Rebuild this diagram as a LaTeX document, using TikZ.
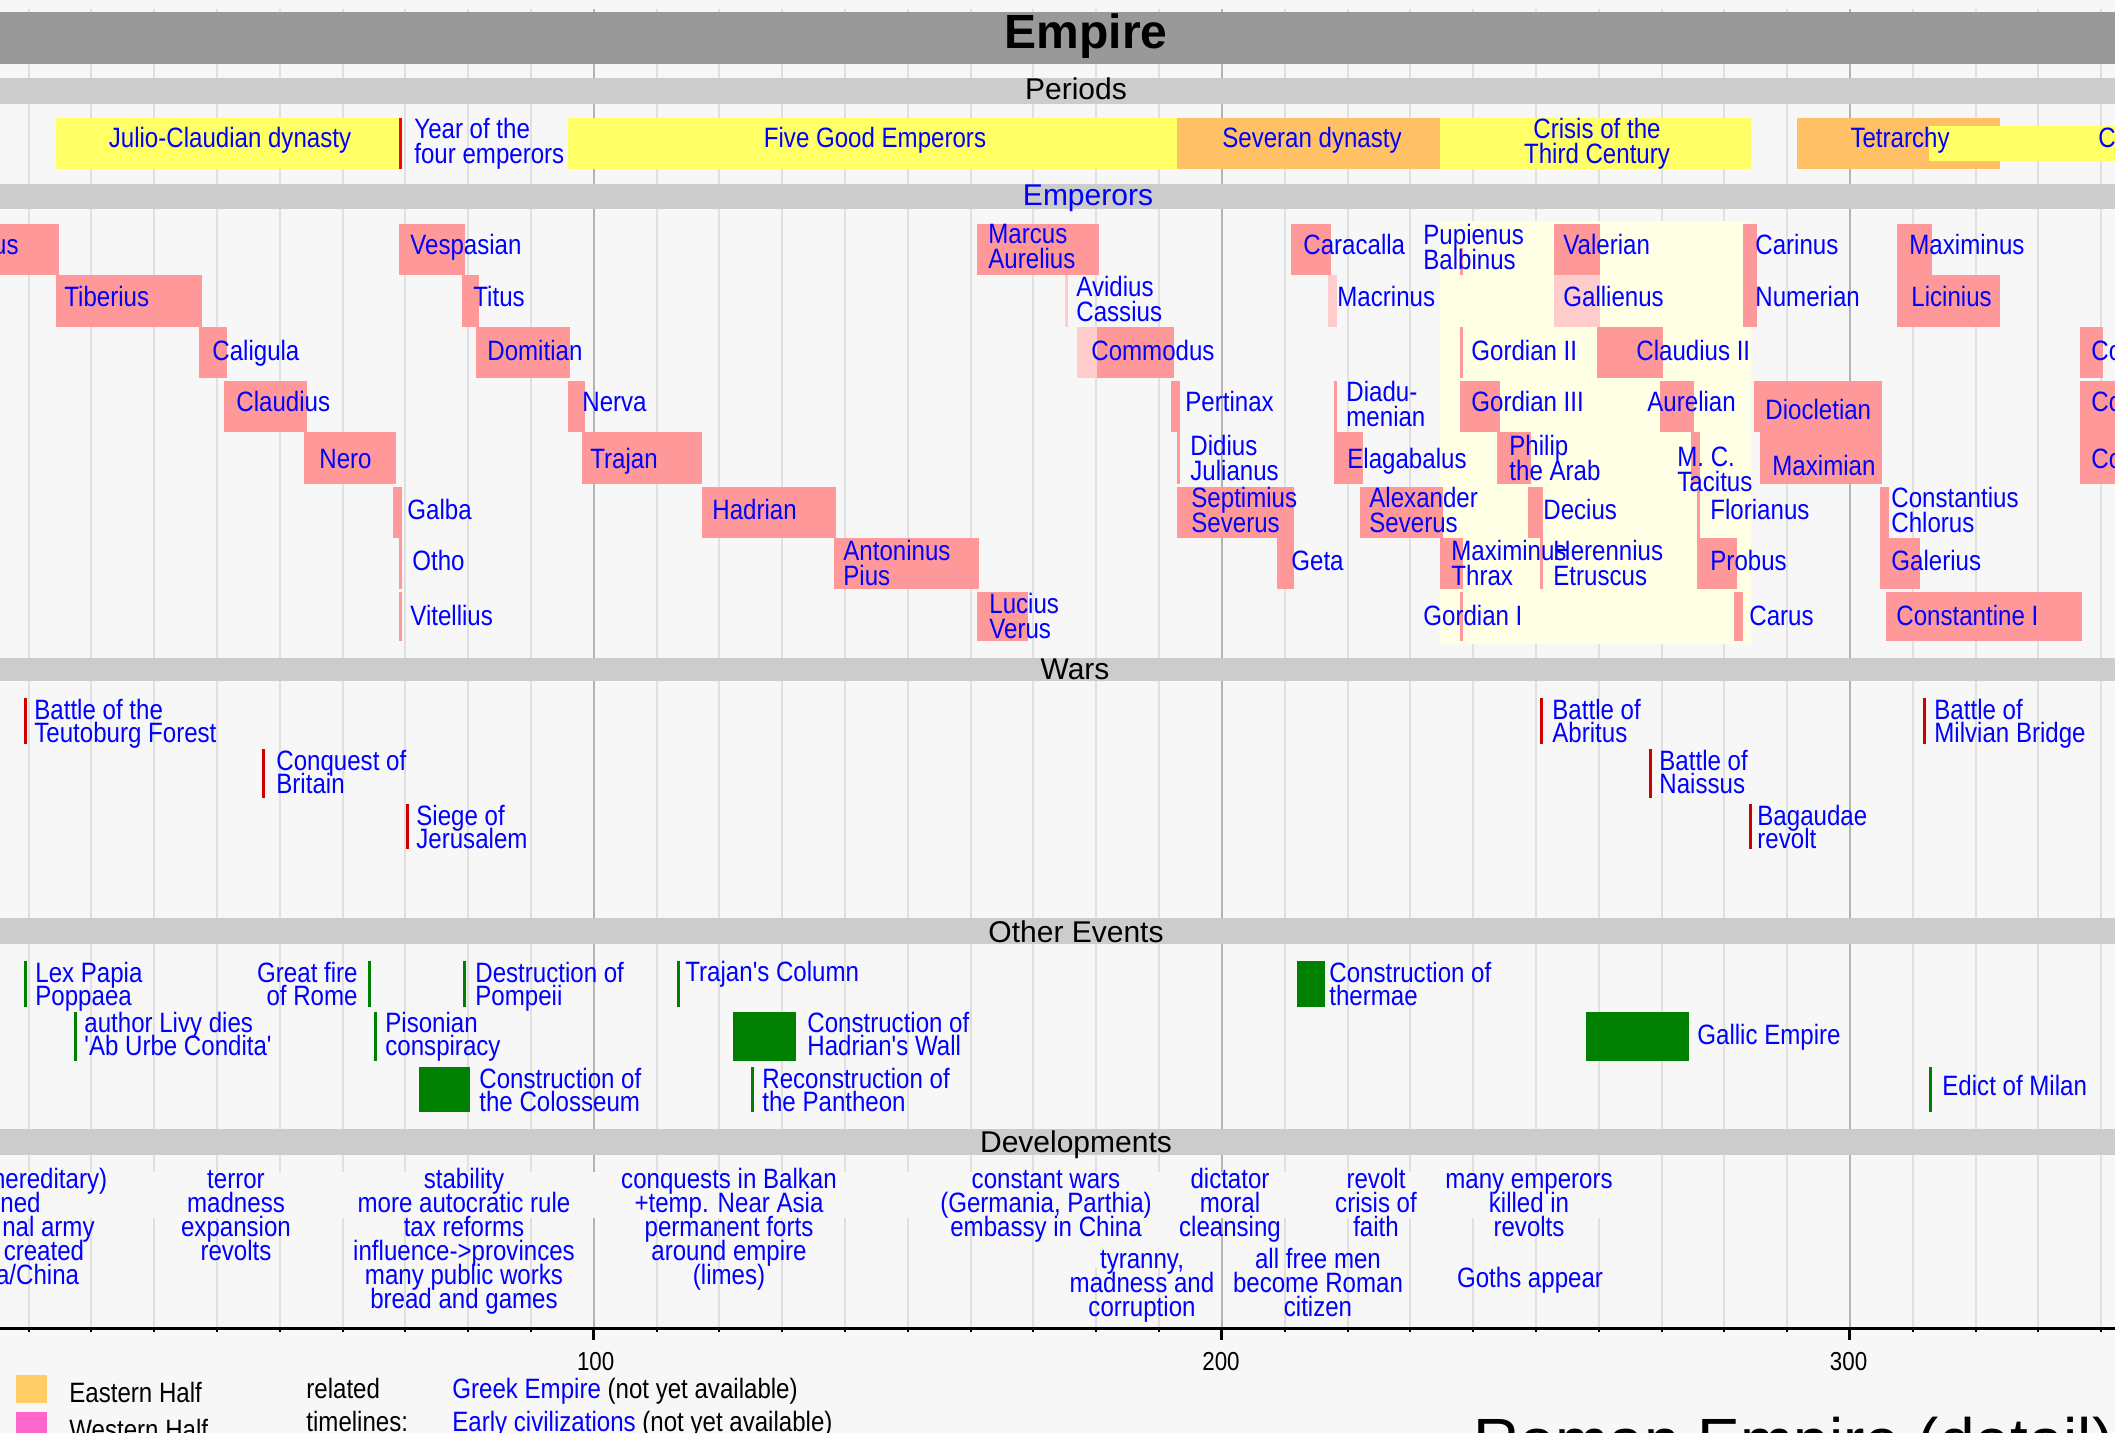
\documentclass[tikz,border=0pt]{standalone}
\usepackage{fontspec}
\setmainfont{Liberation Sans}
\newfontfamily\narrowsans{Liberation Sans}[FakeStretch=0.86]
\newcommand\myelab{\narrowsans\fontsize{14}{12.5}\selectfont\lineskiplimit=-30pt\relax}
\newcommand\mywlab{\narrowsans\fontsize{14}{11.5}\selectfont\lineskiplimit=-30pt\relax}
\newcommand\mydlab{\narrowsans\fontsize{14}{12}\selectfont\lineskiplimit=-30pt\relax}
\definecolor{bgc}{HTML}{F7F7F7}
\definecolor{titleband}{HTML}{999999}
\definecolor{secband}{HTML}{CCCCCC}
\definecolor{gridminor}{HTML}{E0E0E0}
\definecolor{gridmajor}{HTML}{B4B4B4}
\definecolor{peryellow}{HTML}{FFFF66}
\definecolor{perorange}{HTML}{FFC066}
\definecolor{emppink}{HTML}{FF9999}
\definecolor{empltpink}{HTML}{FFCCCC}
\definecolor{crisisbg}{HTML}{FFFFE6}
\definecolor{txtblue}{HTML}{0000FF}
\definecolor{warred}{HTML}{CC0000}
\definecolor{markred}{HTML}{FF0000}
\definecolor{evgreen}{HTML}{008000}
\definecolor{eastc}{HTML}{FFCC66}
\definecolor{westc}{HTML}{FF66CC}
\tikzset{
  emp/.style={fill=emppink},
  lemp/.style={fill=empltpink},
  sl/.style={font=\myelab, text=txtblue, inner sep=0pt, anchor=base west},
  ml/.style={font=\myelab, text=txtblue, inner sep=0pt, anchor=north west, align=left},
  wl/.style={font=\mywlab, text=txtblue, inner sep=0pt, anchor=north west, align=left},
  dv/.style={font=\mydlab, text=txtblue, inner sep=0pt, anchor=north, align=center},
  per/.style={font=\myelab, text=txtblue, inner sep=0pt},
  bandlbl/.style={font=\fontsize{15}{18}\selectfont, inner sep=0pt, anchor=base},
  warline/.style={fill=warred},
  evline/.style={fill=evgreen},
  ticklbl/.style={font=\narrowsans\fontsize{13}{15}\selectfont, inner sep=0pt, anchor=base},
}
\begin{document}
\begin{tikzpicture}[x=0.5pt,y=-0.5pt]
\useasboundingbox (0,0) rectangle (2115,1433);
\clip (0,0) rectangle (2115,1433);
\fill[bgc] (0,0) rectangle (2115,1433);
% grid
\foreach \k in {1,...,34}{
  \pgfmathsetmacro\gx{-34.2+62.805*\k}
  \draw[gridminor, line width=1pt] (\gx,9) -- (\gx,1327);
}
\foreach \k in {10,20,30}{
  \pgfmathsetmacro\gx{-34.2+62.805*\k}
  \draw[gridmajor, line width=1pt] (\gx,9) -- (\gx,1327);
}
% bands
\fill[titleband] (0,12) rectangle (2115,64);
\fill[secband] (0,78) rectangle (2115,104);
\fill[secband] (0,184) rectangle (2115,209);
\fill[secband] (0,658) rectangle (2115,681);
\fill[secband] (0,918) rectangle (2115,944);
\fill[secband] (0,1129) rectangle (2115,1155);
\fill[bgc] (0,1172) rectangle (1630,1218);
\fill[bgc] (1075,1218) rectangle (1200,1268);
\node[anchor=base, inner sep=0pt, font=\bfseries\fontsize{24}{28}\selectfont] (title) at (1086,49) {Empire};
\node[bandlbl] (periodslbl) at (1076,100) {Periods};
\node[bandlbl, text=txtblue] (emperorslbl) at (1088,206) {Emperors};
\node[bandlbl] (warslbl) at (1075,679) {Wars};
\node[bandlbl] (otherlbl) at (1076,942) {Other Events};
\node[bandlbl] (devlbl) at (1076,1152) {Developments};
% periods
\fill[peryellow] (56,118) rectangle (399,169);
\fill[markred] (399,118) rectangle (402,169);
\fill[peryellow] (568,118) rectangle (1177,169);
\fill[perorange] (1177,118) rectangle (1440,169);
\fill[peryellow] (1440,118) rectangle (1751,169);
\fill[perorange] (1797,118) rectangle (2000,169);
\fill[peryellow] (1929,126) rectangle (2115,161);
\node[per, anchor=base] (julio) at (230,148) {Julio-Claudian dynasty};
\node[per, anchor=north west, align=left] (yearfour) at (414,118) {Year of the\\four emperors};
\node[per, anchor=base] (fivegood) at (875,148) {Five Good Emperors};
\node[per, anchor=base] (severan) at (1312,148) {Severan dynasty};
\node[per, anchor=north, align=center] (crisis) at (1597,118) {Crisis of the\\Third Century};
\node[per, anchor=base] (tetrarchy) at (1900,148) {Tetrarchy};
\node[per, anchor=base west] (constdyn) at (2098,148) {Constantinian dynasty};
% emperors
\fill[crisisbg] (1440,221) rectangle (1751,644);
% row 0
\fill[emp] (-5,224) rectangle (59,275);
\fill[emp] (399,224) rectangle (465,275);
\fill[emp] (977,224) rectangle (1099,275);
\fill[emp] (1291,224) rectangle (1331,275);
\fill[emp] (1460,248) rectangle (1463,275);
\fill[emp] (1554,224) rectangle (1600,275);
\fill[emp] (1743,224) rectangle (1757,327);
\fill[emp] (1897,224) rectangle (1932,275);
% row 1
\fill[emp] (56,275) rectangle (202,327);
\fill[emp] (462,275) rectangle (479,327);
\fill[lemp] (1065,275) rectangle (1068,327);
\fill[lemp] (1328,275) rectangle (1337,327);
\fill[lemp] (1554,275) rectangle (1600,327);
\fill[emp] (1897,275) rectangle (2000,327);
% row 2
\fill[emp] (199,327) rectangle (227,378);
\fill[emp] (476,327) rectangle (570,378);
\fill[lemp] (1077,327) rectangle (1097,378);
\fill[emp] (1097,327) rectangle (1174,378);
\fill[emp] (1460,327) rectangle (1463,378);
\fill[emp] (1597,327) rectangle (1663,378);
\fill[emp] (2080,327) rectangle (2103,378);
% row 3
\fill[emp] (224,381) rectangle (307,432);
\fill[emp] (568,381) rectangle (585,432);
\fill[emp] (1171,381) rectangle (1180,432);
\fill[emp] (1334,381) rectangle (1337,432);
\fill[emp] (1460,381) rectangle (1500,432);
\fill[emp] (1660,381) rectangle (1694,432);
\fill[emp] (1754,381) rectangle (1882,432);
\fill[emp] (2080,381) rectangle (2115,432);
% row 4
\fill[emp] (304,432) rectangle (396,484);
\fill[emp] (582,432) rectangle (702,484);
\fill[emp] (1177,432) rectangle (1180,484);
\fill[emp] (1334,432) rectangle (1363,484);
\fill[emp] (1497,432) rectangle (1531,484);
\fill[emp] (1691,432) rectangle (1700,484);
\fill[emp] (1760,432) rectangle (1882,484);
\fill[emp] (2080,432) rectangle (2115,484);
% row 5
\fill[emp] (393,487) rectangle (402,538);
\fill[emp] (702,487) rectangle (836,538);
\fill[emp] (1177,487) rectangle (1294,538);
\fill[emp] (1360,487) rectangle (1443,538);
\fill[emp] (1528,487) rectangle (1543,538);
\fill[emp] (1697,487) rectangle (1700,538);
\fill[emp] (1880,487) rectangle (1889,538);
% row 6
\fill[emp] (399,538) rectangle (402,589);
\fill[emp] (834,538) rectangle (979,589);
\fill[emp] (1277,538) rectangle (1294,589);
\fill[emp] (1440,538) rectangle (1463,589);
\fill[emp] (1540,538) rectangle (1543,589);
\fill[emp] (1697,538) rectangle (1737,589);
\fill[emp] (1880,538) rectangle (1920,589);
% row 7
\fill[emp] (399,592) rectangle (402,641);
\fill[emp] (977,592) rectangle (1028,641);
\fill[emp] (1460,592) rectangle (1463,641);
\fill[emp] (1734,592) rectangle (1743,641);
\fill[emp] (1886,592) rectangle (2082,641);
% emperor labels
\node[sl, anchor=base east] (augustus) at (19,255) {Augustus};
\node[sl] (vespasian) at (410,255) {Vespasian};
\node[ml] (marcus) at (988,224) {Marcus\\Aurelius};
\node[sl] (caracalla) at (1303,255) {Caracalla};
\node[ml] (pupienus) at (1423,224) {Pupienus\\Balbinus};
\node[sl] (valerian) at (1563,255) {Valerian};
\node[sl] (carinus) at (1755,255) {Carinus};
\node[sl] (maximinusd) at (1909,255) {Maximinus};
\node[sl] (tiberius) at (64,307) {Tiberius};
\node[sl] (titus) at (473,307) {Titus};
\node[ml] (avidius) at (1076,276) {Avidius\\Cassius};
\node[sl] (macrinus) at (1337,307) {Macrinus};
\node[sl] (gallienus) at (1563,307) {Gallienus};
\node[sl] (numerian) at (1755,307) {Numerian};
\node[sl] (licinius) at (1911,307) {Licinius};
\node[sl] (caligula) at (212,361) {Caligula};
\node[sl] (domitian) at (487,361) {Domitian};
\node[sl] (commodus) at (1091,361) {Commodus};
\node[sl] (gordian2) at (1471,361) {Gordian II};
\node[sl] (claudius2) at (1636,361) {Claudius II};
\node[sl] (constantine2) at (2091,361) {Constantine II};
\node[sl] (claudius) at (236,412) {Claudius};
\node[sl] (nerva) at (582,412) {Nerva};
\node[sl] (pertinax) at (1185,412) {Pertinax};
\node[ml] (diadumenian) at (1346,381) {Diadu-\\menian};
\node[sl] (gordian3) at (1471,412) {Gordian III};
\node[sl] (aurelian) at (1647,412) {Aurelian};
\node[sl] (diocletian) at (1765,420) {Diocletian};
\node[sl] (constans) at (2091,412) {Constans};
\node[sl] (nero) at (319,468) {Nero};
\node[sl] (trajan) at (590,468) {Trajan};
\node[ml] (didius) at (1190,435) {Didius\\Julianus};
\node[sl] (elagabalus) at (1347,468) {Elagabalus};
\node[ml] (philip) at (1509,435) {Philip\\the Arab};
\node[ml] (tacitus) at (1677,447) {M. C.\\Tacitus};
\node[sl] (maximian) at (1772,475) {Maximian};
\node[sl] (constantius2) at (2091,468) {Constantius II};
\node[sl] (galba) at (407,519) {Galba};
\node[sl] (hadrian) at (712,519) {Hadrian};
\node[ml] (septimius) at (1191,487) {Septimius\\Severus};
\node[ml] (alexander) at (1369,487) {Alexander\\Severus};
\node[sl] (decius) at (1543,519) {Decius};
\node[sl] (florianus) at (1710,519) {Florianus};
\node[ml] (chlorus) at (1891,487) {Constantius\\Chlorus};
\node[sl] (otho) at (412,570) {Otho};
\node[ml] (antoninus) at (843,540) {Antoninus\\Pius};
\node[sl] (geta) at (1291,570) {Geta};
\node[ml] (thrax) at (1451,540) {Maximinus\\Thrax};
\node[ml] (herennius) at (1553,540) {Herennius\\Etruscus};
\node[sl] (probus) at (1710,570) {Probus};
\node[sl] (galerius) at (1891,570) {Galerius};
\node[sl] (vitellius) at (410,625) {Vitellius};
\node[ml] (lucius) at (989,593) {Lucius\\Verus};
\node[sl] (gordian1) at (1423,625) {Gordian I};
\node[sl] (carus) at (1749,625) {Carus};
\node[sl] (constantine1) at (1896,625) {Constantine I};
% wars
\fill[warline] (24,698) rectangle (27,744);
\fill[warline] (262,749) rectangle (265,798);
\fill[warline] (406,804) rectangle (409,849);
\fill[warline] (1540,698) rectangle (1543,744);
\fill[warline] (1649,749) rectangle (1652,798);
\fill[warline] (1749,804) rectangle (1752,849);
\fill[warline] (1923,698) rectangle (1926,744);
\node[wl] (teutoburg) at (34,699) {Battle of the\\Teutoburg Forest};
\node[wl] (britain) at (276,750) {Conquest of\\Britain};
\node[wl] (jerusalem) at (416,805) {Siege of\\Jerusalem};
\node[wl] (abritus) at (1552,699) {Battle of\\Abritus};
\node[wl] (naissus) at (1659,750) {Battle of\\Naissus};
\node[wl] (bagaudae) at (1757,805) {Bagaudae\\revolt};
\node[wl] (milvian) at (1934,699) {Battle of\\Milvian Bridge};
% other events
\fill[evline] (24,961) rectangle (27,1007);
\fill[evline] (368,961) rectangle (371,1007);
\fill[evline] (463,961) rectangle (466,1007);
\fill[evline] (677,961) rectangle (680,1007);
\fill[evline] (1297,961) rectangle (1325,1007);
\fill[evline] (74,1012) rectangle (77,1061);
\fill[evline] (374,1012) rectangle (377,1061);
\fill[evline] (733,1012) rectangle (796,1061);
\fill[evline] (1586,1012) rectangle (1689,1061);
\fill[evline] (419,1067) rectangle (470,1112);
\fill[evline] (751,1067) rectangle (754,1112);
\fill[evline] (1929,1067) rectangle (1932,1112);
\node[wl] (lexpapia) at (35,962) {Lex Papia\\Poppaea};
\node[wl, anchor=north east, align=right] (greatfire) at (358,962) {Great fire\\of Rome};
\node[wl] (pompeii) at (475,962) {Destruction of\\Pompeii};
\node[wl, anchor=base west] (trajancol) at (685,981) {Trajan's Column};
\node[wl] (thermae) at (1329,962) {Construction of\\thermae};
\node[wl] (livy) at (84,1012) {author Livy dies\\'Ab Urbe Condita'};
\node[wl] (pisonian) at (385,1012) {Pisonian\\conspiracy};
\node[wl] (hadwall) at (807,1012) {Construction of\\Hadrian's Wall};
\node[wl, anchor=base west] (gallic) at (1697,1044) {Gallic Empire};
\node[wl] (colosseum) at (479,1068) {Construction of\\the Colosseum};
\node[wl] (pantheon) at (762,1068) {Reconstruction of\\the Pantheon};
\node[wl, anchor=base west] (milan) at (1942,1095) {Edict of Milan};
% developments
\node[sl, anchor=base east] (dva) at (107.5,1188) {hereditary)};
\node[sl, anchor=base east] (dvb) at (41,1212) {ened};
\node[sl, anchor=base east] (dvc) at (95,1236) {nal army};
\node[sl, anchor=base east] (dvd) at (84.5,1260) {created};
\node[sl, anchor=base east] (dve) at (79.5,1284) {a/China};
\node[dv] (dterror) at (236,1168) {\vphantom{l}terror\\madness\\expansion\\revolts};
\node[dv] (dstab) at (464,1168) {\vphantom{l}stability\\more autocratic rule\\tax reforms\\influence->provinces\\many public works\\bread and games};
\node[dv] (dconq) at (729,1168) {\vphantom{l}conquests in Balkan\\+temp. Near Asia\\permanent forts\\around empire\\(limes)};
\node[dv] (dwars) at (1046,1168) {\vphantom{l}constant wars\\(Germania, Parthia)\\embassy in China};
\node[dv] (dtyr) at (1142,1248) {\vphantom{l}tyranny,\\madness and\\corruption};
\node[dv] (ddict) at (1230,1168) {\vphantom{l}dictator\\moral\\cleansing};
\node[dv] (dfree) at (1318,1248) {\vphantom{l}all free men\\become Roman\\citizen};
\node[dv] (drevolt) at (1376,1168) {\vphantom{l}revolt\\crisis of\\faith};
\node[dv] (dmany) at (1529,1168) {\vphantom{l}many emperors\\killed in\\revolts};
\node[sl, anchor=base] (dgoths) at (1530,1287) {Goths appear};
% axis
\draw[black, line width=1.5pt] (0,1328) -- (2115,1328);
\foreach \k in {1,...,34}{
  \pgfmathsetmacro\gx{-34.2+62.805*\k}
  \draw[black, line width=1pt] (\gx,1328) -- (\gx,1332);
}
\foreach \k in {10,20,30}{
  \pgfmathsetmacro\gx{-34.2+62.805*\k}
  \draw[black, line width=1.5pt] (\gx,1328) -- (\gx,1340);
}
\node[ticklbl] (t100) at (595.7,1370) {100};
\node[ticklbl] (t200) at (1221,1370) {200};
\node[ticklbl] (t300) at (1848.6,1370) {300};
% legend
\fill[eastc] (16,1375) rectangle (47,1403);
\fill[westc] (16,1412) rectangle (47,1440);
\node[sl, text=black] (eastlbl) at (69,1402) {Eastern Half};
\node[sl, text=black] (westlbl) at (69,1439) {Western Half};
\node[sl, text=black] (related) at (306,1398) {related};
\node[sl, text=black] (timelines) at (306,1431) {timelines:};
\node[sl, text=black] (greek) at (452,1398) {\textcolor{txtblue}{Greek Empire} (not yet available)};
\node[sl, text=black] (early) at (452,1431) {\textcolor{txtblue}{Early civilizations} (not yet available)};
\node[anchor=base west, inner sep=0pt, font=\fontsize{32}{36}\selectfont] (bigtitle) at (1473,1463) {Roman Empire (detail)};
\end{tikzpicture}
\end{document}
